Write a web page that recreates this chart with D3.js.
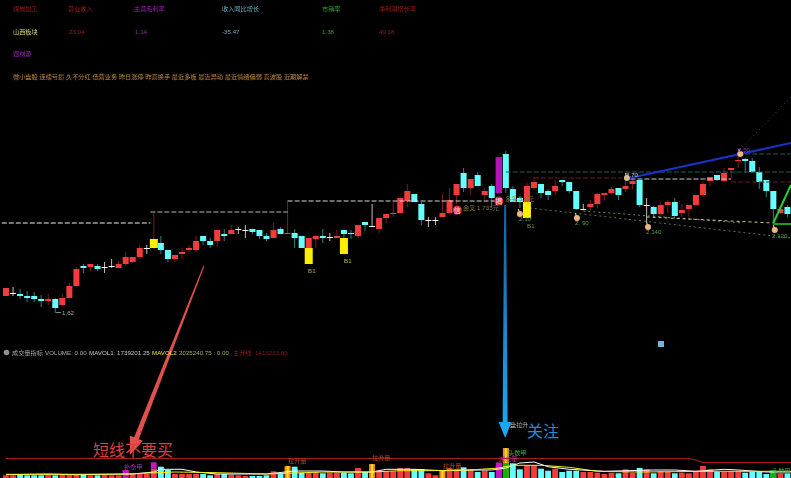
<!DOCTYPE html>
<html lang="zh">
<head>
<meta charset="utf-8">
<script src="https://cdn.jsdelivr.net/npm/d3@7/dist/d3.min.js"></script>
<style>
  html, body { margin: 0; padding: 0; background: #000; overflow: hidden; }
  svg { display: block; }
  text { font-family: "Liberation Sans", "Noto Sans CJK SC", sans-serif; }
  .small { font-size: 6.2px; filter: blur(0.25px); }
</style>
</head>
<body>
<div id="chart"></div>
<script>
// candles
const openV = [
  1.75,1.78,1.77,1.75,1.75,1.72,1.70,1.72,1.66,1.73,
  1.85,2.05,2.04,2.05,2.04,2.05,2.03,2.07,2.09,2.14,
  2.23,2.23,2.28,2.21,2.12,2.17,2.21,2.21,2.35,2.30,
  2.30,2.37,2.37,2.42,2.41,2.42,2.41,2.35,2.33,2.42,
  2.37,2.38,2.35,2.23,2.32,2.35,2.34,2.33,2.41,2.38,
  2.35,2.49,2.45,2.42,2.53,2.57,2.58,2.70,2.77,2.67,
  2.51,2.51,2.54,2.58,2.76,2.98,2.83,2.96,2.76,2.85,
  2.78,3.17,2.82,2.73,2.69,2.83,2.87,2.80,2.80,2.91,
  2.89,2.80,2.62,2.64,2.67,2.76,2.78,2.83,2.82,2.87,
  2.91,2.66,2.64,2.57,2.66,2.69,2.58,2.62,2.66,2.76,
  2.90,2.96,2.90,3.01,3.10,3.12,3.10,2.99,2.91,2.80,
  2.58,2.64];
const closeV = [
  1.83,1.78,1.75,1.73,1.72,1.70,1.72,1.63,1.73,1.85,
  2.02,2.03,2.07,2.02,2.04,2.05,2.07,2.14,2.14,2.23,
  2.23,2.32,2.21,2.12,2.16,2.19,2.23,2.30,2.30,2.26,
  2.41,2.35,2.41,2.42,2.41,2.39,2.35,2.32,2.41,2.37,
  2.38,2.33,2.23,2.33,2.35,2.33,2.34,2.35,2.37,2.37,
  2.46,2.46,2.45,2.53,2.57,2.58,2.73,2.80,2.69,2.51,
  2.51,2.51,2.58,2.71,2.87,2.83,2.92,2.85,2.80,2.73,
  3.14,2.83,2.69,2.69,2.85,2.89,2.78,2.76,2.85,2.89,
  2.80,2.62,2.62,2.67,2.77,2.78,2.82,2.76,2.85,2.90,
  2.66,2.66,2.57,2.66,2.69,2.55,2.61,2.66,2.76,2.87,
  2.94,2.91,2.98,3.03,3.11,3.10,2.99,2.89,2.80,2.62,
  2.62,2.57];
const highV = [
  1.83,1.84,1.82,1.80,1.79,1.76,1.77,1.73,1.77,1.88,
  2.04,2.07,2.07,2.07,2.09,2.12,2.10,2.19,2.14,2.26,
  2.26,2.58,2.35,2.21,2.16,2.23,2.26,2.35,2.35,2.33,
  2.41,2.42,2.46,2.44,2.46,2.42,2.41,2.38,2.48,2.44,
  2.70,2.42,2.35,2.33,2.36,2.42,2.38,2.41,2.41,2.41,
  2.46,2.49,2.67,2.53,2.57,2.69,2.74,2.87,2.77,2.69,
  2.54,2.54,2.77,2.83,2.87,3.03,2.92,2.99,2.83,2.87,
  3.14,3.20,2.85,2.75,2.88,2.94,2.87,2.82,2.91,2.91,
  2.89,2.80,2.67,2.71,2.78,2.78,2.84,2.83,2.91,2.93,
  2.91,2.73,2.65,2.69,2.71,2.73,2.67,2.66,2.76,2.89,
  2.94,2.96,3.03,3.03,3.21,3.13,3.13,3.04,2.91,2.80,
  2.64,2.66];
const lowV = [
  1.75,1.75,1.72,1.69,1.69,1.64,1.66,1.58,1.65,1.73,
  1.85,1.98,2.00,2.00,1.98,2.03,2.03,2.05,2.08,2.12,
  2.17,2.22,2.17,2.09,2.09,2.12,2.19,2.19,2.26,2.23,
  2.24,2.30,2.37,2.37,2.33,2.37,2.32,2.30,2.33,2.37,
  2.37,2.23,2.23,2.23,2.23,2.28,2.30,2.33,2.33,2.32,
  2.33,2.40,2.44,2.38,2.48,2.54,2.58,2.64,2.69,2.46,
  2.44,2.46,2.54,2.58,2.67,2.79,2.76,2.85,2.71,2.64,
  2.78,2.78,2.69,2.63,2.53,2.81,2.73,2.71,2.76,2.85,
  2.78,2.61,2.61,2.61,2.63,2.71,2.76,2.71,2.79,2.82,
  2.64,2.49,2.54,2.54,2.58,2.54,2.54,2.54,2.66,2.74,
  2.85,2.90,2.90,2.93,3.03,2.98,2.98,2.82,2.74,2.48,
  2.57,2.54];

// volume, millions
const volumeV = [
  .27,.27,.33,.27,.27,.27,.33,.27,.33,.40,
  .40,.40,.27,.27,.33,.27,.27,.80,.40,.40,
  .40,.93,1.13,.80,.40,.40,.40,.40,.40,.27,
  .40,.40,.33,.27,.20,.20,.20,.27,.67,.40,
  1.2,1.13,.53,.53,.60,.47,.53,.53,.53,.47,
  1.0,.60,1.4,.73,.67,.67,1.0,1.0,.87,.87,
  .47,.27,.80,1.0,.87,1.07,.87,.60,.73,.60,
  1.53,3.0,1.47,.87,1.27,1.27,.93,.73,.93,.60,
  .73,.73,.60,.60,.53,.40,.53,.47,.87,.53,
  1.0,.87,.47,.67,.60,.47,.53,.47,.73,1.2,
  .87,.60,.60,.67,.67,.53,.60,.60,.40,.73,
  .47,.47];
const magentaBars = [[17, 0, .80], [21, .93, 1.57], [70, 0, 1.53]];
const orangeBars = [40, 52, 62, 71];
const greenBars = [[71, 0, 1.5], [109, 0, .73]];

const ma1 = [[0,.33],[6,.4],[10,.33],[18,.4],[21,.6],[22,.87],[25,.87],[27,.6],[30,.4],[37,.4],[41,.7],[45,.7],[48,.6],[52,.6],[54,.87],[58,.87],[62,.73],[66,.8],[69,.8],[71,1.0],[73,1.5],[75,1.6],[77,1.13],[80,.87],[85,.67],[92,.8],[95,.8],[98,.67],[102,.87],[104,.8],[108,.6],[111.5,.6]];
const ma2 = [[0,.37],[10,.37],[17,.4],[24,.6],[30,.53],[37,.4],[45,.6],[52,.6],[56,.73],[60,.73],[66,.8],[70,1.0],[72,1.27],[76,1.27],[80,1.07],[84,.67],[90,.6],[100,.67],[111.5,.67]];
const riseLine = [[0,1.95],[97,1.95],[98,1.8],[99,1.55],[111.5,1.55]];

// horizontal levels: start, end, price, colour
const levels = [
  [-0.6, 20.5, 2.48, "#f0f0f0"],
  [20.5, 40, 2.59, "#b8b8b8"],
  [40, 70, 2.70, "#d8d8d8"],
  [88.7, 103, 2.92, "#d8c8c8"],
  [71, 111.5, 2.99, "#1f5f5f"],
  [75, 88, 2.93, "#6a1f1f"],
  [103, 111.5, 2.89, "#6a1f1f"],
  [104, 111.5, 3.17, "#2c5a48"]
];
const trendLines = [
  [[88.6,2.93],[111.5,3.28],"#1a32c8",2,null],
  [[104.2,3.21],[111.5,3.74],"#6a2a90",1,"1,3"],
  [[109,2.48],[111.5,2.86],"#25d025",2,null],
  [[109,2.47],[111.5,2.47],"#25d025",1.5,null],
  [[74.4,2.63],[111.5,2.33],"#4f7a3f",1,"2,3"],
  [[82,2.60],[104.7,2.48],"#6f8f4a",1,"2,3"],
  [[91,2.54],[109,2.48],"#c8c890",1,"3,3"]
];
const buyBars = [[43,2.23,2.07],[48,2.33,2.17],[74,2.69,2.53],[21,2.32,2.23]];

const headerTexts = [
  ["煤炭加工",13,11,"#a01818"],["营业收入",68,11,"#a01818"],["主营毛利率",134,11,"#a020b0"],
  ["收入同比增长",222,11,"#60b0c0"],["市销率",322,11,"#30a030"],["净利润增长率",379,11,"#a01818"],
  ["山西板块",13,33.5,"#d8d070"],["23.04",69,33.5,"#a01818"],["1.14",135,33.5,"#a020b0"],
  ["-35.47",222,33.5,"#60b0c0"],["1.38",322,33.5,"#30a030"],["49.18",379,33.5,"#a01818"],
  ["题材源",13,56,"#a020c0"],
  ["微小盘股 连续亏损 久不分红 低营业务 昨日涨停 昨高换手 最近多板 最近异动 最近情绪偏弱 高波股 近期解禁",13,78.5,"#c08840"]
];
const chartTexts = [
  ["1.62",62,315,"#a8a8a8"],["B1",308,273,"#b0a060"],["B1",344,263,"#c8b868"],["B1",527,227.5,"#8a8040"],
  ["2.10",519,221,"#5a9a4a"],["2. 90",575,225,"#5a9a4a"],["2.140",646,234,"#5a9a4a"],["2.120",772,238,"#5a9a4a"],
  ["3.70",626,177,"#c8c8c8"],["3.50",738,152,"#8030b0"],
  ["金叉 1.733元",463,210,"#8a7a30"],["多头 3.4元",505,201,"#8a7a30"]
];
const volumeTexts = [
  ["补仓甲",124,469,"#a030c0"],["拉升量",288,463,"#b05020"],["拉升量",372,460,"#b05020"],
  ["拉升量",443,468,"#b05020"],["减主量",499,461,"#c030a0"],["头数甲",508,455,"#30b030"],
  ["盘拉升",510,427,"#b0b0b0"],["头数甲",772,473,"#30b030"]
];
const swingHands = [[81.1,2.54],[91.2,2.45],[109.2,2.42],[88.2,2.94],[104.3,3.18],[73,2.58]];
const signals = [[64.1,2.61,"信"],[70,2.70,"揭"]];
const volumeLegend = [
  ["成交量指标",12,355,"#a8a8a8"],["VOLUME: 0.00",45,355,"#a8a8a8"],["MAVOL1: 1739201.25",89,355,"#c8c8c8"],
  ["MAVOL2",152,355,"#e8e840"],["2025240.75 : 0.00",179,355,"#a8a860"],["主升线",233,355,"#a01818"],["1413233.00",255,355,"#901818"]
];

const width = 791, height = 478;
const svg = d3.select("#chart").append("svg").attr("width", width).attr("height", height);

// one x for both panes
const x = d3.scaleLinear().domain([0, 111]).range([6, 787.44]);
const y = d3.scaleLinear().domain([0, 4.71]).range([471, 0]);
const yVol = d3.scaleLinear().domain([0, 3]).range([478, 448]);

const candleW = 6;
const RED = "#f23c3c", CYAN = "#66ffff";
const candleColor = i => openV[i] === closeV[i] ? "#ffffff" : (closeV[i] > openV[i] ? RED : CYAN);
const idx = d3.range(openV.length);

// wicks
svg.append("g").selectAll("line").data(idx).enter().append("line")
  .attr("x1", i => x(i)).attr("x2", i => x(i))
  .attr("y1", i => y(highV[i])).attr("y2", i => y(lowV[i]))
  .attr("stroke", candleColor)
  .attr("stroke-opacity", i => openV[i] === closeV[i] ? 0.75 : 0.5);

// bodies
svg.append("g").selectAll("rect").data(idx).enter().append("rect")
  .attr("x", i => x(i) - candleW / 2)
  .attr("width", candleW)
  .attr("y", i => y(Math.max(openV[i], closeV[i])))
  .attr("height", i => Math.max(1, Math.abs(y(openV[i]) - y(closeV[i]))))
  .attr("fill", candleColor);

// level lines
svg.append("g").selectAll("line").data(levels).enter().append("line")
  .attr("x1", d => x(d[0])).attr("x2", d => x(d[1]))
  .attr("y1", d => y(d[2])).attr("y2", d => y(d[2]))
  .attr("stroke", d => d[3]).attr("stroke-dasharray", "5,2");

// trend lines
svg.append("g").selectAll("line").data(trendLines).enter().append("line")
  .attr("x1", d => x(d[0][0])).attr("y1", d => y(d[0][1]))
  .attr("x2", d => x(d[1][0])).attr("y2", d => y(d[1][1]))
  .attr("stroke", d => d[2]).attr("stroke-width", d => d[3])
  .attr("stroke-dasharray", d => d[4]);

// the tall magenta day and the B1 bars go on top of the candles
svg.append("rect")
  .attr("x", x(70) - 3).attr("width", candleW)
  .attr("y", y(closeV[70])).attr("height", y(openV[70]) - y(closeV[70]))
  .attr("fill", "#b414b4");
svg.append("g").selectAll("rect").data(buyBars).enter().append("rect")
  .attr("x", d => x(d[0]) - 4).attr("width", 8)
  .attr("y", d => y(d[1])).attr("height", d => y(d[2]) - y(d[1]))
  .attr("fill", "#ffee00");

// hands at the swing points
const hands = svg.append("g").selectAll("g").data(swingHands).enter().append("g")
  .attr("transform", d => `translate(${x(d[0])},${y(d[1])})`);
hands.append("circle").attr("r", 3).attr("cy", 1).attr("fill", "#e8b880");
hands.append("line").attr("x1", -1.5).attr("y1", -4).attr("x2", -0.5).attr("y2", 0)
  .attr("stroke", "#e8b880").attr("stroke-width", 1.2);

// signal stamps
const stamps = svg.append("g").selectAll("g").data(signals).enter().append("g")
  .attr("transform", d => `translate(${x(d[0])},${y(d[1])})`);
stamps.append("circle").attr("r", 4.5).attr("fill", "#d82c2c");
stamps.append("text").attr("text-anchor", "middle").attr("y", 2.5)
  .style("font-size", "7px").attr("fill", "#ffe0e0").text(d => d[2]);

// volume bars
const volW = 5.8;
svg.append("g").selectAll("rect").data(idx).enter().append("rect")
  .attr("x", i => x(i) - volW / 2).attr("width", volW)
  .attr("y", i => yVol(volumeV[i]))
  .attr("height", i => yVol(0) - yVol(volumeV[i]))
  .attr("fill", i => closeV[i] >= openV[i] ? RED : CYAN);
svg.append("g").selectAll("rect").data(orangeBars).enter().append("rect")
  .attr("x", i => x(i) - volW / 2).attr("width", volW)
  .attr("y", i => yVol(volumeV[i]))
  .attr("height", i => yVol(0) - yVol(volumeV[i]))
  .attr("fill", "#f08a10");
svg.append("g").selectAll("rect").data(orangeBars).enter().append("rect")
  .attr("x", i => x(i) - 1).attr("width", 2)
  .attr("y", i => yVol(volumeV[i]))
  .attr("height", i => yVol(0) - yVol(volumeV[i]))
  .attr("fill", "#ffe020");
svg.append("g").selectAll("rect").data(magentaBars).enter().append("rect")
  .attr("x", d => x(d[0]) - volW / 2).attr("width", volW)
  .attr("y", d => yVol(d[2])).attr("height", d => yVol(d[1]) - yVol(d[2]))
  .attr("fill", "#c814c8");
svg.append("g").selectAll("rect").data(greenBars).enter().append("rect")
  .attr("x", d => x(d[0]) - volW / 2).attr("width", volW)
  .attr("y", d => yVol(d[2])).attr("height", d => yVol(d[1]) - yVol(d[2]))
  .attr("fill", "#0cb40c");

// volume lines
const volLine = d3.line().x(d => x(d[0])).y(d => yVol(d[1]));
svg.append("path").attr("d", volLine(riseLine)).attr("fill", "none").attr("stroke", "#a81c1c").attr("stroke-width", 1.2);
svg.append("path").attr("d", volLine(ma1)).attr("fill", "none").attr("stroke", "#ffffff");
svg.append("path").attr("d", volLine(ma2)).attr("fill", "none").attr("stroke", "#f4f020");

// big hand drawn arrows, tapered
function taperArrow(from, to, w0, w1, headW, headL, fill) {
  const x0 = x(from[0]), y0 = y(from[1]), x1 = x(to[0]), y1 = y(to[1]);
  const len = Math.hypot(x1 - x0, y1 - y0);
  const ux = (x1 - x0) / len, uy = (y1 - y0) / len, nx = -uy, ny = ux;
  const bx = x1 - ux * headL, by = y1 - uy * headL;
  const pts = [
    [x0 + nx * w0 / 2, y0 + ny * w0 / 2], [bx + nx * w1 / 2, by + ny * w1 / 2],
    [bx + nx * headW / 2, by + ny * headW / 2], [x1, y1],
    [bx - nx * headW / 2, by - ny * headW / 2], [bx - nx * w1 / 2, by - ny * w1 / 2],
    [x0 - nx * w0 / 2, y0 - ny * w0 / 2]
  ];
  svg.append("polygon").attr("points", pts.map(p => p.join(",")).join(" ")).attr("fill", fill);
}
const blueFade = svg.append("defs").append("linearGradient").attr("id", "blueFade")
  .attr("x1", 0).attr("x2", 0).attr("y1", 0).attr("y2", 1);
blueFade.append("stop").attr("offset", "0").attr("stop-color", "#17609a");
blueFade.append("stop").attr("offset", "1").attr("stop-color", "#1ea8f5");
taperArrow([70.9, 2.66], [70.9, 0.33], 2, 5, 13, 16, "url(#blueFade)");
taperArrow([28.1, 2.05], [17.6, 0.16], 1, 5, 14, 18, "#e2504e");

// all the text
const allTexts = headerTexts.concat(chartTexts, volumeTexts, volumeLegend);
svg.append("g").selectAll("text").data(allTexts).enter().append("text")
  .attr("class", "small")
  .attr("x", d => d[1]).attr("y", d => d[2]).attr("fill", d => d[3])
  .text(d => d[0]);

svg.append("line").attr("x1", 56).attr("x2", 61).attr("y1", 312.5).attr("y2", 312.5).attr("stroke", "#808080");
svg.append("circle").attr("cx", 6.5).attr("cy", 352.5).attr("r", 2.8).attr("fill", "#909090");

svg.append("text").attr("x", 93).attr("y", 456).attr("fill", "#d8423f").style("font-size", "16px").text("短线不要买");
svg.append("text").attr("x", 527).attr("y", 437).attr("fill", "#1b8fd8").style("font-size", "16px").text("关注");

// small marker in the lower pane
svg.append("rect").attr("x", 658).attr("y", 341).attr("width", 6).attr("height", 6).attr("fill", "#6fb8d8");
</script>
</body>
</html>
